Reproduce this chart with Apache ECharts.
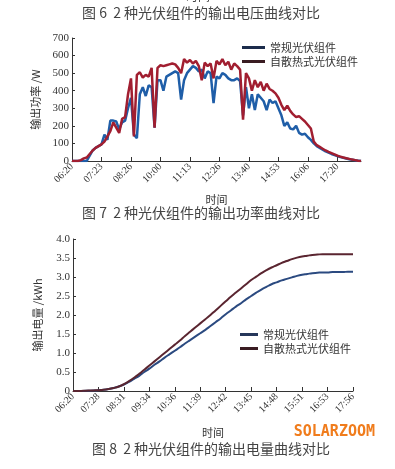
<!DOCTYPE html>
<html><head><meta charset="utf-8">
<script src="https://cdn.jsdelivr.net/npm/echarts@6/dist/echarts.min.js"></script>
<style>html,body{margin:0;padding:0;background:#fff}#c{width:395px;height:469px}</style>
</head><body><div id="c"></div>
<script>
// ---- Figure 7: output power (W) ----
const powerTicks = ['06:20','07:23','08:26','10:00','11:13','12:26','13:40','14:53','16:06','17:20'];
const powerNormal = [0,0,0,0,0,0,30,60,75,85,
  95,150,120,230,230,225,180,220,230,300,
  360,150,130,380,420,370,430,420,190,460,
  460,400,480,490,500,510,500,350,460,500,
  520,540,530,510,520,470,510,500,330,480,
  470,500,490,470,460,460,470,455,260,420,
  300,380,290,380,360,340,290,350,330,340,
  300,260,200,220,185,180,200,160,150,155,
  135,120,100,85,75,65,55,48,40,34,
  28,22,18,14,10,7,4,2,0];
const powerCooled = [0,0,0,5,15,20,40,60,75,85,
  95,110,140,170,220,190,160,240,250,380,
  470,140,490,505,475,490,480,530,190,530,
  545,540,545,550,555,550,530,500,580,560,
  575,555,570,540,460,560,540,555,470,570,
  550,580,545,565,520,555,540,520,235,500,
  470,400,460,420,450,400,440,410,400,385,
  360,320,290,315,285,265,250,255,240,225,
  205,185,110,90,80,70,60,52,45,38,
  30,25,20,16,12,8,5,2,0];
// ---- Figure 8: output energy (kWh) ----
const energyTicks = ['06:20','07:28','08:31','09:34','10:36','11:39','12:42','13:45','14:48','15:51','16:53','17:56'];
const energyNormal = [0,0,0.003,0.006,0.01,0.02,0.03,0.05,0.08,0.12,
  0.17,0.24,0.32,0.40,0.50,0.59,0.69,0.78,0.88,0.97,
  1.06,1.15,1.25,1.34,1.43,1.52,1.61,1.71,1.81,1.91,
  2.02,2.12,2.22,2.31,2.41,2.50,2.59,2.67,2.74,2.81,
  2.86,2.91,2.95,2.99,3.03,3.06,3.08,3.10,3.11,3.12,
  3.12,3.13,3.13,3.13,3.14,3.14];
const energyCooled = [0,0,0.005,0.01,0.015,0.02,0.03,0.05,0.08,0.12,
  0.18,0.26,0.35,0.45,0.56,0.67,0.78,0.89,1.00,1.11,
  1.22,1.33,1.45,1.56,1.67,1.78,1.89,2.00,2.12,2.24,
  2.36,2.48,2.59,2.70,2.81,2.92,3.01,3.10,3.18,3.25,
  3.31,3.37,3.42,3.47,3.51,3.54,3.56,3.58,3.59,3.60,
  3.60,3.60,3.60,3.60,3.60,3.60];
const seriesNames = ['常规光伏组件','自散热式光伏组件'];

function buildCats(n, ticks, step){
  const a = [];
  for (let i = 0; i < n; i++) a.push(i % step === 0 ? (ticks[i / step] || '') : '');
  return a;
}
const catsP = buildCats(powerNormal.length, powerTicks, 10);
const catsE = buildCats(energyNormal.length, energyTicks, 5);

const serif = 'Liberation Serif';
const cjk = 'Noto Sans CJK SC';
const axisCol = '#333';

function xAxisCfg(gi, cats, step, gap){
  return {
    type:'category', gridIndex:gi, data:cats, boundaryGap:false,
    name:'时间', nameLocation:'middle', nameGap:gap,
    nameTextStyle:{fontFamily:cjk, fontSize:11, color:'#333'},
    axisLine:{lineStyle:{color:axisCol, width:1}},
    axisTick:{inside:true, interval:step-1, length:4, lineStyle:{color:axisCol}},
    axisLabel:{interval:step-1, rotate:45, fontFamily:serif, fontSize:10, color:'#333', margin:4},
    splitLine:{show:false}
  };
}

const chart = echarts.init(document.getElementById('c'), null, {renderer:'canvas'});
chart.setOption({
  animation:false,
  backgroundColor:'#fff',
  graphic:[
    {type:'text', left:186, top:-10, style:{text:'时间', font:'12px "Noto Sans CJK SC"', fill:'#444'}},
    {type:'text', left:82, top:6, style:{text:'图 6  2 种光伏组件的输出电压曲线对比', font:'14px "Noto Sans CJK SC"', fill:'#444'}},
    {type:'text', left:82, top:206, style:{text:'图 7  2 种光伏组件的输出功率曲线对比', font:'14px "Noto Sans CJK SC"', fill:'#444'}},
    {type:'text', left:92, top:442, style:{text:'图 8  2 种光伏组件的输出电量曲线对比', font:'14px "Noto Sans CJK SC"', fill:'#444'}},
    {type:'text', right:20, top:425, style:{text:'SOLARZOOM', font:'bold 15px "DejaVu Sans Mono"', fill:'#f07c1c'}}
  ],
  legend:[
    {orient:'vertical', left:242, top:41, padding:0, itemWidth:23, itemHeight:3, itemGap:1, itemTextGap:4, icon:'rect',
     textStyle:{fontFamily:cjk, fontSize:11, color:'#333', lineHeight:13},
     data:[{name:seriesNames[0], itemStyle:{color:'#1c2c4c'}},{name:seriesNames[1], itemStyle:{color:'#3a1c22'}}],
     selectedMode:false},
    {orient:'vertical', left:240, top:328, padding:0, itemWidth:18, itemHeight:3, itemGap:1, icon:'rect', itemTextGap:8,
     textStyle:{fontFamily:cjk, fontSize:11, color:'#333', lineHeight:13},
     data:[{name:seriesNames[0], itemStyle:{color:'#26375a'}},{name:seriesNames[1], itemStyle:{color:'#3a1c22'}}],
     selectedMode:false}
  ],
  grid:[
    {left:72, top:38, width:289, height:123},
    {left:73, top:239, width:280, height:152}
  ],
  xAxis:[ xAxisCfg(0, catsP, 10, 33), xAxisCfg(1, catsE, 5, 36) ],
  yAxis:[
    {type:'value', gridIndex:0, min:0, max:700, interval:100,
     name:'输出功率 /W', nameLocation:'middle', nameGap:31, nameRotate:90,
     nameTextStyle:{fontFamily:cjk, fontSize:11, color:'#333'},
     axisLine:{show:true, lineStyle:{color:axisCol}},
     axisTick:{show:true, inside:true, length:3, lineStyle:{color:axisCol}},
     axisLabel:{fontFamily:serif, fontSize:11, color:'#333', margin:3},
     splitLine:{show:false}},
    {type:'value', gridIndex:1, min:0, max:4, interval:0.5,
     name:'输出电量 /kWh', nameLocation:'middle', nameGap:30, nameRotate:90,
     nameTextStyle:{fontFamily:cjk, fontSize:11, color:'#333'},
     axisLine:{show:true, lineStyle:{color:axisCol}},
     axisTick:{show:true, inside:true, length:3, lineStyle:{color:axisCol}},
     axisLabel:{fontFamily:serif, fontSize:11, color:'#333', margin:3,
       formatter:v => v === 0 ? '0' : v.toFixed(1)},
     splitLine:{show:false}}
  ],
  series:[
    {name:seriesNames[0], type:'line', xAxisIndex:0, yAxisIndex:0, data:powerNormal,
     symbol:'none', lineStyle:{color:'#1f5ea8', width:2.5}, itemStyle:{color:'#1f5ea8'}},
    {name:seriesNames[1], type:'line', xAxisIndex:0, yAxisIndex:0, data:powerCooled,
     symbol:'none', lineStyle:{color:'#a11e30', width:2.5}, itemStyle:{color:'#a11e30'}},
    {name:seriesNames[0], type:'line', xAxisIndex:1, yAxisIndex:1, data:energyNormal,
     symbol:'none', smooth:true, lineStyle:{color:'#2b4a80', width:2}, itemStyle:{color:'#2b4a80'}},
    {name:seriesNames[1], type:'line', xAxisIndex:1, yAxisIndex:1, data:energyCooled,
     symbol:'none', smooth:true, lineStyle:{color:'#5a2530', width:2}, itemStyle:{color:'#5a2530'}}
  ]
});
</script></body></html>
